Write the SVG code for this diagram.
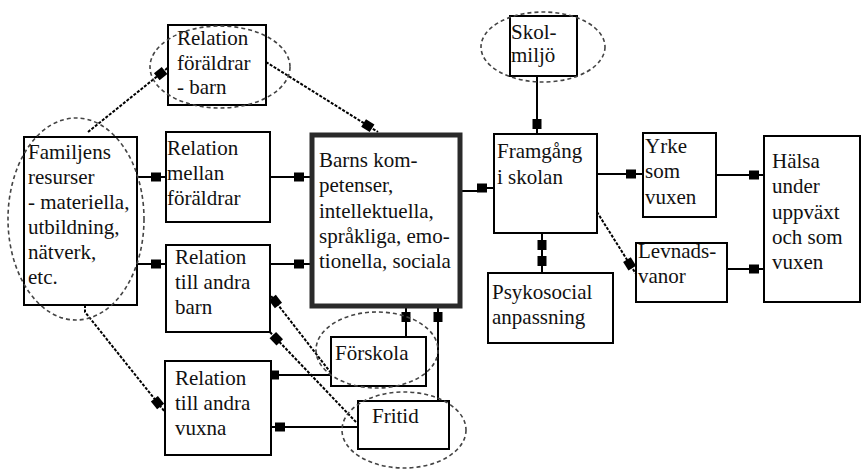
<svg xmlns="http://www.w3.org/2000/svg" width="864" height="469" viewBox="0 0 864 469">
<style>
.box{fill:#fff;stroke:#000;stroke-width:2}
.thick{fill:#fff;stroke:#2a2a2a;stroke-width:5}
.ell{fill:none;stroke:#444;stroke-width:1.6;stroke-dasharray:4 3}
text{font-family:'Liberation Serif','Tinos','Times New Roman','DejaVu Serif',serif;font-size:21px;fill:#111}
.c{fill:none;stroke:#000;stroke-width:2}
.d{fill:none;stroke:#000;stroke-width:2;stroke-dasharray:3 1.5}
</style>
<defs>
<marker id="sq" markerUnits="userSpaceOnUse" markerWidth="30" markerHeight="20" viewBox="-20 -10 30 20" refX="0" refY="0" orient="auto">
<rect x="-17" y="-4.5" width="10" height="9" fill="#000"/>
</marker>
<marker id="sqs" markerUnits="userSpaceOnUse" markerWidth="30" markerHeight="20" viewBox="-10 -10 30 20" refX="0" refY="0" orient="auto">
<rect x="7" y="-4.5" width="10" height="9" fill="#000"/>
</marker>
</defs>

<g id="connectors">
<line class="d" x1="88" y1="132" x2="170" y2="66" marker-end="url(#sq)"/>
<line class="d" x1="266" y1="62" x2="378" y2="132" marker-end="url(#sq)"/>
<line class="c" x1="137" y1="177" x2="168" y2="177" marker-end="url(#sq)"/>
<line class="c" x1="270" y1="177" x2="311" y2="177" marker-end="url(#sq)"/>
<line class="c" x1="137" y1="264" x2="168" y2="264" marker-end="url(#sq)"/>
<line class="c" x1="270" y1="264" x2="311" y2="264" marker-end="url(#sq)"/>
<polyline class="d" points="85,305 85,312 165,412" marker-end="url(#sq)"/>
<polyline class="c" points="461,191 480,191 480,188 494,188" marker-end="url(#sq)"/>
<line class="c" x1="537" y1="76" x2="537" y2="136" marker-end="url(#sq)"/>
<line class="c" x1="597" y1="174" x2="643" y2="174" marker-end="url(#sq)"/>
<line class="d" x1="597" y1="212" x2="636" y2="274" marker-end="url(#sq)"/>
<line class="c" x1="542" y1="233" x2="542" y2="273" marker-start="url(#sqs)" marker-end="url(#sq)"/>
<line class="c" x1="716" y1="175" x2="766" y2="175" marker-end="url(#sq)"/>
<line class="c" x1="725" y1="269" x2="766" y2="269" marker-end="url(#sq)"/>
<line class="c" x1="406" y1="337" x2="406" y2="305" marker-end="url(#sq)"/>
<line class="c" x1="438" y1="401" x2="438" y2="305" marker-end="url(#sq)"/>
<line class="c" x1="331" y1="375" x2="262" y2="375" marker-end="url(#sq)"/>
<line class="c" x1="358" y1="427" x2="268" y2="427" marker-end="url(#sq)"/>
<line class="d" x1="331" y1="373" x2="268" y2="292" marker-end="url(#sq)"/>
<line class="d" x1="356" y1="422" x2="268" y2="330" marker-end="url(#sq)"/>
</g>

<g id="n-foraldrar-barn">
<rect class="box" x="168" y="25" width="98" height="80"/>
<text x="177" y="45">Relation</text>
<text x="177" y="70">föräldrar</text>
<text x="177" y="94">- barn</text>
<ellipse class="ell" cx="220" cy="67" rx="70" ry="41"/>
</g>

<g id="n-familjens">
<rect class="box" x="24" y="137" width="113" height="168"/>
<text x="28" y="159">Familjens</text>
<text x="28" y="184">resurser</text>
<text x="28" y="209">- materiella,</text>
<text x="28" y="234">utbildning,</text>
<text x="28" y="259">nätverk,</text>
<text x="28" y="284">etc.</text>
<ellipse class="ell" cx="76" cy="219" rx="68" ry="101"/>
</g>

<g id="n-mellan">
<rect class="box" x="166" y="132" width="104" height="90"/>
<text x="167" y="155">Relation</text>
<text x="167" y="180">mellan</text>
<text x="167" y="205">föräldrar</text>
</g>

<g id="n-barn">
<rect class="box" x="166" y="245" width="104" height="87"/>
<text x="175" y="264">Relation</text>
<text x="175" y="289">till andra</text>
<text x="175" y="314">barn</text>
</g>

<g id="n-vuxna">
<rect class="box" x="165" y="361" width="106" height="94"/>
<text x="175" y="385">Relation</text>
<text x="175" y="410">till andra</text>
<text x="175" y="435">vuxna</text>
</g>

<g id="n-kompetenser">
<rect class="thick" x="312" y="135" width="148" height="171"/>
<text x="319" y="167">Barns kom-</text>
<text x="319" y="192">petenser,</text>
<text x="319" y="218">intellektuella,</text>
<text x="319" y="243">språkliga, emo-</text>
<text x="319" y="268">tionella, sociala</text>
</g>

<g id="n-forskola">
<rect class="box" x="331" y="337" width="95" height="49"/>
<text x="335" y="360">Förskola</text>
<ellipse class="ell" cx="377" cy="350" rx="61" ry="38"/>
</g>

<g id="n-fritid">
<rect class="box" x="358" y="401" width="91" height="48"/>
<text x="372" y="423">Fritid</text>
<ellipse class="ell" cx="404" cy="430" rx="62" ry="38"/>
</g>

<g id="n-skolmiljo">
<rect class="box" x="510" y="16" width="67" height="60"/>
<text x="511" y="39">Skol-</text>
<text x="511" y="62">miljö</text>
<ellipse class="ell" cx="543" cy="47" rx="62" ry="35"/>
</g>

<g id="n-framgang">
<rect class="box" x="494" y="134" width="103" height="99"/>
<text x="497" y="158">Framgång</text>
<text x="497" y="184">i skolan</text>
</g>

<g id="n-psykosocial">
<rect class="box" x="488" y="273" width="125" height="70"/>
<text x="492" y="299">Psykosocial</text>
<text x="492" y="324">anpassning</text>
</g>

<g id="n-yrke">
<rect class="box" x="643" y="133" width="73" height="84"/>
<text x="645" y="153">Yrke</text>
<text x="645" y="178">som</text>
<text x="645" y="204">vuxen</text>
</g>

<g id="n-levnadsvanor">
<rect class="box" x="636" y="243" width="91" height="59"/>
<text x="638" y="258">Levnads-</text>
<text x="638" y="283">vanor</text>
</g>

<g id="n-halsa">
<rect class="box" x="764" y="136" width="96" height="166"/>
<text x="772" y="168">Hälsa</text>
<text x="772" y="193">under</text>
<text x="772" y="219">uppväxt</text>
<text x="772" y="244">och som</text>
<text x="772" y="269">vuxen</text>
</g>
</svg>
